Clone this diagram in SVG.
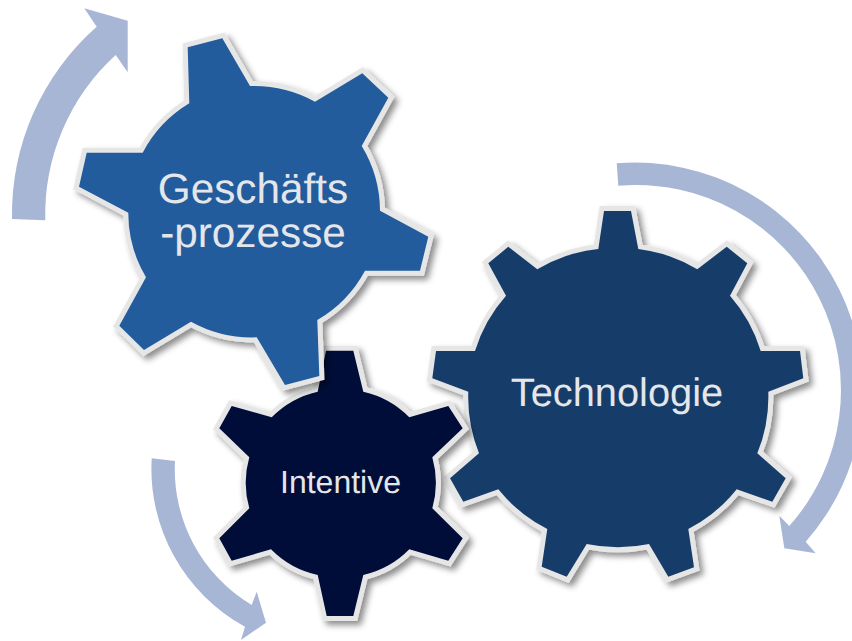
<svg xmlns="http://www.w3.org/2000/svg" width="852" height="641" viewBox="0 0 852 641">
<defs>
<filter id="sh" x="-10%" y="-10%" width="125%" height="125%"><feDropShadow dx="4" dy="4" stdDeviation="3" flood-color="#000" flood-opacity="0.45"/></filter>
<style>
.gear{stroke:#e6e6e6;stroke-width:10;stroke-linejoin:miter;paint-order:stroke;filter:url(#sh)}
.arrow{fill:#a8b6d5}
text{font-family:"Liberation Sans",Arial,sans-serif;fill:#e4e6ea;text-anchor:middle;text-rendering:geometricPrecision}
</style>
</defs>
<rect width="852" height="641" fill="#fff"/>
<g id="connectors">
<path class="arrow" d="M12 219A250 250 0 0 1 96.7 26.7L84.3 8.3L127.7 20.7V72.3L115.7 55A216 216 0 0 0 45.3 220.3Z"/>
<path class="arrow" d="M616.7 163.3A228 228 0 0 1 805.7 541.7L815.7 553.3L784.3 548.3L779.3 515.7L789.3 526A205 205 0 0 0 618.3 185.7Z"/>
<path class="arrow" d="M151.7 458.3A180 180 0 0 0 245 626.7L241 640L266 622.7L256.7 591.7L251.7 605A158 158 0 0 1 175 461Z"/>
</g>
<g id="technologie">
<path class="gear" fill="#173c6a" d="M604 211H631L638.3 249A150 150 0 0 1 697.3 269.3L726.7 246.7L747.3 263.3L730 295.7A150 150 0 0 1 760.7 351H800L803.3 378.3L768.3 391.7A150 150 0 0 1 757.3 453.3L785.7 478.3L772.3 501.7L736.7 489.3A150 150 0 0 1 688.3 529L694 567.3L668.3 576.7L649 544A150 150 0 0 1 586.7 544L566.7 576.7L541.7 566.7L547.3 529A150 150 0 0 1 498.3 489.3L463.3 501.7L450 478.3L479 453.3A150 150 0 0 1 468.3 391.7L432.3 378.3L436 351H475A150 150 0 0 1 506 295.7L488.3 263.3L508.3 246.7L537.3 269.3A150 150 0 0 1 598.3 249Z"/>
<text x="617" y="406" font-size="39.8">Technologie</text>
</g>
<g id="intentive">
<path class="gear" fill="#000c38" d="M326 350.7H353.3L363.3 391.7A93 93 0 0 1 409.3 417.3L448.3 406L462.7 428.3L432.3 457.3A93 93 0 0 1 432.3 508.3L462.7 538.3L448.3 560.7L409.3 549.3A93 93 0 0 1 363.3 575L353.3 616H326.7L317.7 575A93 93 0 0 1 271 549.3L231.7 560.7L219.3 538.3L249.3 508.3A93 93 0 0 1 249.3 457.3L219.3 428.3L231.7 406L271.7 417.3A93 93 0 0 1 317.7 391.7Z"/>
<text x="340.5" y="492.7" font-size="32">Intentive</text>
</g>
<g id="geschaeftsprozesse">
<path class="gear" fill="#205b9d" d="M187.7 47.3L222.3 38.3L250 86A126 126 0 0 1 315 101.7L362.3 73.3L388.3 97.7L361.7 146A126 126 0 0 1 380 210.7L428.3 236.7L420 270.7H365A126 126 0 0 1 317.3 320L319.3 376L285 385L256.7 337.3A126 126 0 0 1 191 321.7L144 350L119.3 325.7L146 277.3A126 126 0 0 1 128.3 212.7L79 186.7L86.7 152.7H142.7A126 126 0 0 1 189.3 103.3Z"/>
<text x="253" y="202.7" font-size="42.3">Geschäfts</text>
<text x="253" y="246.7" font-size="42.3">-prozesse</text>
</g>
</svg>
